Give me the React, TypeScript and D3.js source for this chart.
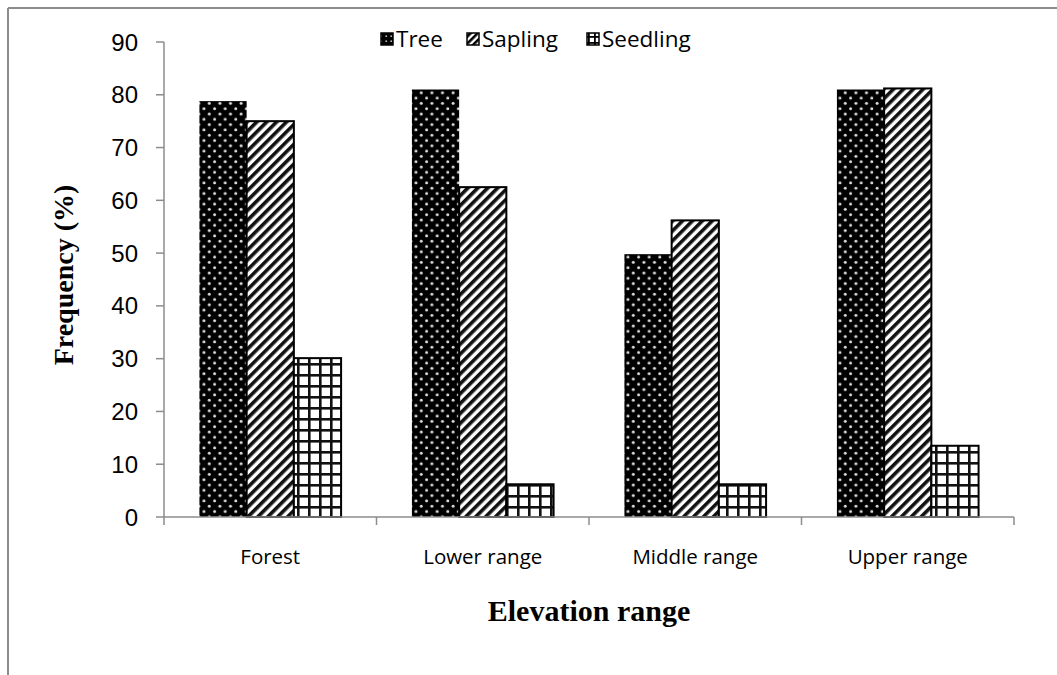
import React from "react";
import * as d3 from "d3";

const categories = ["Forest", "Lower range", "Middle range", "Upper range"];
const seriesNames = ["Tree", "Sapling", "Seedling"];
const treeValues = [78.8, 81.0, 49.8, 81.0];
const saplingValues = [75.0, 62.5, 56.2, 81.2];
const seedlingValues = [30.1, 6.2, 6.2, 13.5];
const yTicks = [0, 10, 20, 30, 40, 50, 60, 70, 80, 90];

const W = 1057;
const H = 675;
const left = 164;
const right = 1014;
const top = 42;
const bottom = 517;

const patternIds = ["pTree", "pSapling", "pSeedling"];

export default function App() {
  const x = d3.scaleBand<string>().domain(categories).range([left, right]).paddingInner(0).paddingOuter(0);
  const y = d3.scaleLinear().domain([0, 90]).range([bottom, top]);
  const bw = x.bandwidth();
  const barW = bw / (3 + 1.5);
  const gap = (bw - barW * 3) / 2;
  const series = [treeValues, saplingValues, seedlingValues];
  const legendX = [381, 467, 587];

  return (
    <svg width={W} height={H} style={{ position: "absolute", left: 0, top: 0, background: "#fff" }}>
      <defs>
        <pattern id="pTree" patternUnits="userSpaceOnUse" width={10.6} height={10.6}>
          <rect width={10.6} height={10.6} fill="#000" />
          <circle cx={2.6} cy={2.6} r={1.5} fill="#e0e0e0" />
          <circle cx={7.9} cy={7.9} r={1.5} fill="#e0e0e0" />
        </pattern>
        <pattern id="pSapling" patternUnits="userSpaceOnUse" width={7} height={7} patternTransform="rotate(45)">
          <rect width={7} height={7} fill="#fff" />
          <rect width={3.6} height={7} fill="#111" />
        </pattern>
        <pattern id="pSeedling" patternUnits="userSpaceOnUse" width={11} height={11}>
          <rect width={11} height={11} fill="#fff" />
          <rect x={0} y={0} width={11} height={2.6} fill="#111" />
          <rect x={0} y={0} width={2.6} height={11} fill="#111" />
        </pattern>
        <pattern id="lTree" patternUnits="userSpaceOnUse" width={5} height={5}>
          <rect width={5} height={5} fill="#000" />
          <circle cx={1.2} cy={1.2} r={0.9} fill="#bbb" />
        </pattern>
        <pattern id="lSap" patternUnits="userSpaceOnUse" width={5} height={5} patternTransform="rotate(45)">
          <rect width={5} height={5} fill="#fff" />
          <rect width={2.6} height={5} fill="#000" />
        </pattern>
        <pattern id="lSeed" patternUnits="userSpaceOnUse" width={6} height={6}>
          <rect width={6} height={6} fill="#fff" />
          <rect width={6} height={1.8} fill="#000" />
          <rect width={1.8} height={6} fill="#000" />
        </pattern>
      </defs>

      {/* frame */}
      <line x1={8} y1={8} x2={W} y2={8} stroke="#8c8c8c" strokeWidth={2} />
      <line x1={8} y1={8} x2={8} y2={H} stroke="#8c8c8c" strokeWidth={2} />

      {/* bars */}
      {series.map((vals, si) =>
        vals.map((v, ci) => {
          const bx = (x(categories[ci]) as number) + gap + si * barW;
          return (
            <rect
              key={`${si}-${ci}`}
              x={bx}
              y={y(v)}
              width={barW}
              height={y(0) - y(v)}
              fill={`url(#${patternIds[si]})`}
              stroke="#000"
              strokeWidth={si === 0 ? 0 : 2}
            />
          );
        })
      )}

      {/* y axis */}
      <line x1={left} y1={top} x2={left} y2={bottom + 8} stroke="#8c8c8c" strokeWidth={1.5} />
      {yTicks.map((t) => (
        <g key={t}>
          <line x1={left - 8} y1={y(t)} x2={left} y2={y(t)} stroke="#8c8c8c" strokeWidth={1.5} />
          <text
            x={138}
            y={y(t)}
            textAnchor="end"
            dominantBaseline="central"
            fontFamily="Liberation Sans, Arial, sans-serif"
            fontSize={24}
            fill="#000"
          >
            {t}
          </text>
        </g>
      ))}

      {/* x axis */}
      <line x1={left} y1={bottom} x2={right} y2={bottom} stroke="#8c8c8c" strokeWidth={1.5} />
      {categories.map((c, i) => (
        <line
          key={`tk${i}`}
          x1={(x(c) as number) + bw}
          y1={bottom}
          x2={(x(c) as number) + bw}
          y2={bottom + 8}
          stroke="#8c8c8c"
          strokeWidth={1.5}
        />
      ))}
      {categories.map((c) => (
        <text
          key={c}
          x={(x(c) as number) + bw / 2}
          y={564}
          textAnchor="middle"
          fontFamily="Open Sans, sans-serif"
          fontSize={20.5}
          fill="#000"
        >
          {c}
        </text>
      ))}

      {/* axis titles */}
      <text
        x={589}
        y={621}
        textAnchor="middle"
        fontFamily="Liberation Serif, Times New Roman, serif"
        fontWeight="bold"
        fontSize={30}
        fill="#000"
      >
        Elevation range
      </text>
      <text
        transform="translate(73,275) rotate(-90)"
        textAnchor="middle"
        fontFamily="Liberation Serif, Times New Roman, serif"
        fontWeight="bold"
        fontSize={28}
        fill="#000"
      >
        Frequency (%)
      </text>

      {/* legend */}
      {seriesNames.map((s, i) => (
        <g key={s}>
          <rect
            x={legendX[i]}
            y={33}
            width={12}
            height={12}
            fill={i === 0 ? "url(#lTree)" : i === 1 ? "url(#lSap)" : "url(#lSeed)"}
            stroke="#000"
            strokeWidth={1.5}
          />
          <text
            x={legendX[i] + 15}
            y={47}
            fontFamily="Open Sans, sans-serif"
            fontSize={22.5}
            fill="#000"
          >
            {s}
          </text>
        </g>
      ))}
    </svg>
  );
}
